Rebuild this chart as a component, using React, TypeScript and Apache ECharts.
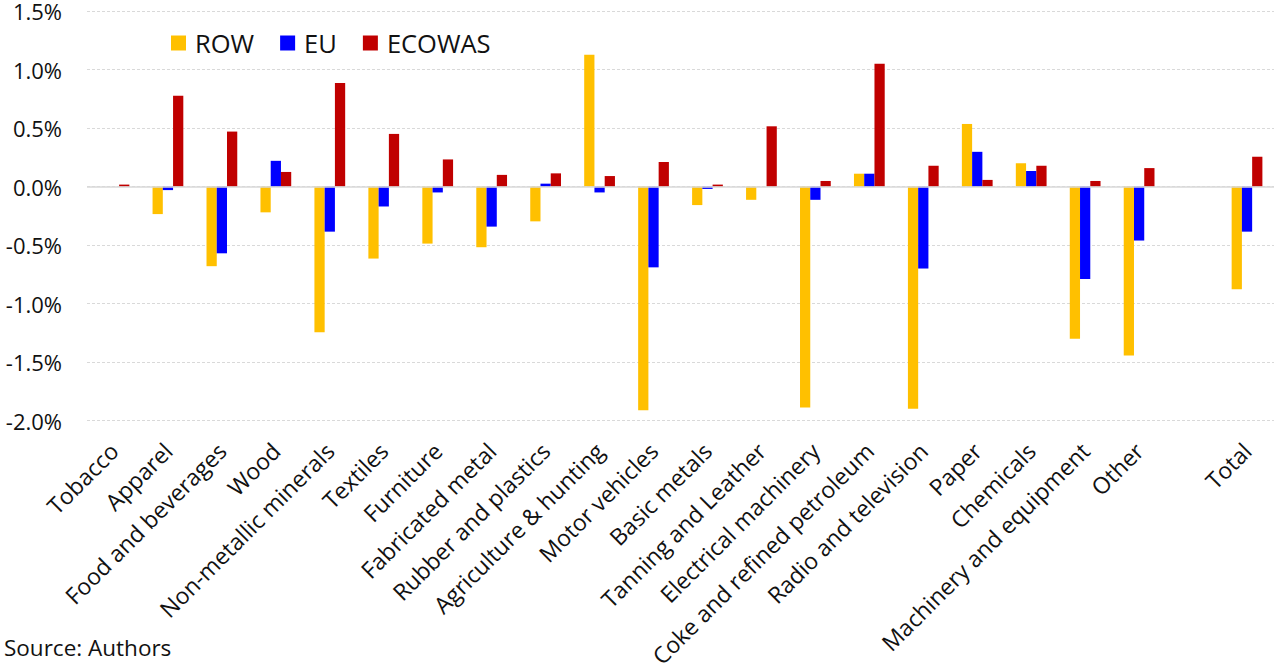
import React, { useEffect, useRef } from "react";
import * as echarts from "echarts";

const categories = [
  "Tobacco", "Apparel", "Food and beverages", "Wood", "Non-metallic minerals",
  "Textiles", "Furniture", "Fabricated metal", "Rubber and plastics",
  "Agriculture & hunting", "Motor vehicles", "Basic metals", "Tanning and Leather",
  "Electrical machinery", "Coke and refined petroleum", "Radio and television",
  "Paper", "Chemicals", "Machinery and equipment", "Other", "", "Total",
];

const rowValues = [0, -0.235, -0.68, -0.22, -1.245, -0.615, -0.487, -0.518, -0.297, 1.126, -1.91, -0.158, -0.113, -1.887, 0.11, -1.898, 0.535, 0.2, -1.3, -1.443, null, -0.877];
const euValues = [0, -0.03, -0.57, 0.22, -0.385, -0.17, -0.05, -0.342, 0.025, -0.05, -0.69, -0.02, 0, -0.113, 0.11, -0.7, 0.297, 0.133, -0.79, -0.461, null, -0.385];
const ecowasValues = [0.017, 0.775, 0.47, 0.125, 0.885, 0.45, 0.232, 0.1, 0.113, 0.09, 0.21, 0.017, 0.515, 0.048, 1.05, 0.178, 0.057, 0.178, 0.048, 0.158, null, 0.255];

const seriesNames = ["ROW", "EU", "ECOWAS"];
const seriesColors = ["#FFC000", "#0000FF", "#C00000"];
const yTicks = { min: -2, max: 1.5, interval: 0.5 };
const sourceText = "Source: Authors";

const FONT = "'Open Sans', sans-serif";

export default function App() {
  const ref = useRef<HTMLDivElement>(null);
  useEffect(() => {
    if (!ref.current) return;
    const chart = echarts.init(ref.current, null, { renderer: "svg" });
    const dataSets = [rowValues, euValues, ecowasValues];
    chart.setOption({
      animation: false,
      textStyle: { fontFamily: FONT },
      grid: { left: 87, right: 0, top: 9.3, bottom: 250.3, containLabel: false },
      legend: {
        left: 166,
        top: 25,
        itemWidth: 15,
        itemHeight: 15,
        itemGap: 26,
        icon: "rect",
        textStyle: { fontSize: 25.5, color: "#111", fontFamily: FONT, padding: [0, 0, 0, 4] },
        data: seriesNames,
      },
      xAxis: {
        type: "category",
        data: categories,
        axisLine: { show: false },
        axisTick: { show: false },
        axisLabel: {
          interval: 0,
          rotate: 45,
          margin: 26,
          fontSize: 23,
          color: "#111",
          fontFamily: FONT,
        },
        splitLine: { show: false },
      },
      yAxis: {
        type: "value",
        min: yTicks.min,
        max: yTicks.max,
        interval: yTicks.interval,
        axisLine: { show: false },
        axisTick: { show: false },
        axisLabel: {
          margin: 25,
          fontSize: 22,
          color: "#111",
          fontFamily: FONT,
          formatter: (v: number) => v.toFixed(1) + "%",
        },
        splitLine: { show: true, lineStyle: { color: "#d9d9d9", type: [3, 2], width: 1 } },
      },
      series: seriesNames.map((name, i) => ({
        name,
        type: "bar",
        data: dataSets[i],
        itemStyle: { color: seriesColors[i] },
        barGap: "0%",
        barCategoryGap: "43%",
        ...(i === 0
          ? {
              markLine: {
                silent: true,
                symbol: "none",
                label: { show: false },
                lineStyle: { color: "#d9d9d9", type: "solid", width: 1.5 },
                data: [{ yAxis: 0 }],
              },
            }
          : {}),
      })),
      graphic: [
        {
          type: "text",
          left: 4,
          top: 636,
          style: { text: sourceText, fontSize: 22.5, fill: "#111", fontFamily: FONT },
        },
      ],
    });
    return () => chart.dispose();
  }, []);
  return (
    <div
      ref={ref}
      style={{ position: "absolute", left: 0, top: 0, width: 1274, height: 671, background: "#fff" }}
    />
  );
}
